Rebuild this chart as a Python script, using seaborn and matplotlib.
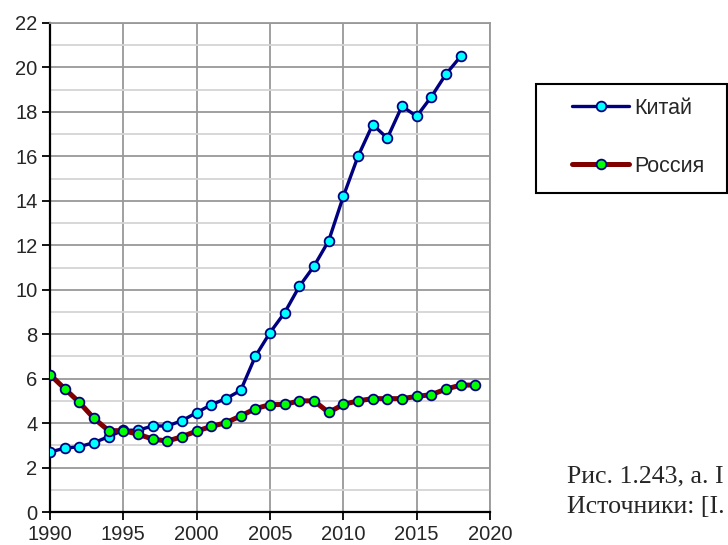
import numpy as np
import pandas as pd
import matplotlib.pyplot as plt
from matplotlib.patches import Rectangle
from matplotlib.ticker import MultipleLocator
import seaborn as sns

years_china = list(range(1990, 2019))
china = [2.7, 2.87, 2.94, 3.12, 3.39, 3.68, 3.68, 3.87, 3.87, 4.11,
         4.47, 4.83, 5.1, 5.47, 7.0, 8.07, 8.97, 10.15, 11.06, 12.2,
         14.2, 16.0, 17.43, 16.82, 18.26, 17.8, 18.68, 19.7, 20.5]

years_russia = list(range(1990, 2020))
russia = [6.18, 5.55, 4.93, 4.21, 3.66, 3.66, 3.5, 3.28, 3.19, 3.39,
          3.64, 3.85, 4.02, 4.32, 4.65, 4.83, 4.84, 5.0, 5.0, 4.48,
          4.84, 5.0, 5.1, 5.1, 5.1, 5.2, 5.28, 5.53, 5.71, 5.71]

labels = ["Китай", "Россия"]

df = pd.concat([
    pd.DataFrame({"year": years_china, "value": china, "country": labels[0]}),
    pd.DataFrame({"year": years_russia, "value": russia, "country": labels[1]}),
])

sns.set_style("white")
plt.rcParams['font.family'] = ['Liberation Sans', 'DejaVu Sans']

fig = plt.figure(figsize=(7.28, 5.45), dpi=100)
ax = fig.add_axes([50/728, 33/545, 440/728, 489/545])

# china first, russia drawn on top
sns.lineplot(data=df[df.country == labels[0]], x="year", y="value", ax=ax,
             color="#000080", linewidth=2.4, marker="o", markersize=7,
             markerfacecolor="#00FFFF", markeredgecolor="#000080",
             markeredgewidth=1.3, label=labels[0], zorder=3)
sns.lineplot(data=df[df.country == labels[1]], x="year", y="value", ax=ax,
             color="#800000", linewidth=3.6, marker="o", markersize=7,
             markerfacecolor="#00FF00", markeredgecolor="#000080",
             markeredgewidth=1.3, label=labels[1], zorder=4)

ax.set_xlim(1990, 2020)
ax.set_ylim(0, 22)
ax.xaxis.set_major_locator(MultipleLocator(5))
ax.yaxis.set_major_locator(MultipleLocator(2))
ax.yaxis.set_minor_locator(MultipleLocator(1))
ax.set_xlabel("")
ax.set_ylabel("")

ax.grid(True, which="major", axis="both", color="#999999", linewidth=1.3)
ax.grid(True, which="minor", axis="y", color="#d4d4d4", linewidth=1.3)
ax.set_axisbelow(True)

for s in ["left", "bottom"]:
    ax.spines[s].set_color("black")
    ax.spines[s].set_linewidth(1.6)
for s in ["top", "right"]:
    ax.spines[s].set_color("#999999")
    ax.spines[s].set_linewidth(1.3)

ax.tick_params(axis="both", which="major", direction="out", length=6,
               width=1.3, color="black", labelsize=14.5, pad=3,
               left=True, bottom=True)
ax.tick_params(axis="y", which="minor", length=0)

ax.get_legend().remove()
handles, lbls = ax.get_legend_handles_labels()
fig.add_artist(Rectangle((536/728, 1 - 193/545), 191/728, 109/545,
                         transform=fig.transFigure, fill=False,
                         edgecolor="black", linewidth=1.5))
fig.legend(handles, lbls, loc="upper left",
           bbox_to_anchor=(572/728, 1 - 98/545),
           bbox_transform=fig.transFigure, frameon=False,
           fontsize=15.5, borderpad=0, borderaxespad=0,
           handlelength=2.65, handletextpad=0.23, labelspacing=1.72)

fig.text(567/728, 1 - 482/545, "Рис. 1.243, а. I", fontsize=18.6,
         family=["Liberation Serif", "DejaVu Serif"])
fig.text(567/728, 1 - 513/545, "Источники: [I.", fontsize=18.6,
         family=["Liberation Serif", "DejaVu Serif"])

fig.savefig("out.png", dpi=100)
